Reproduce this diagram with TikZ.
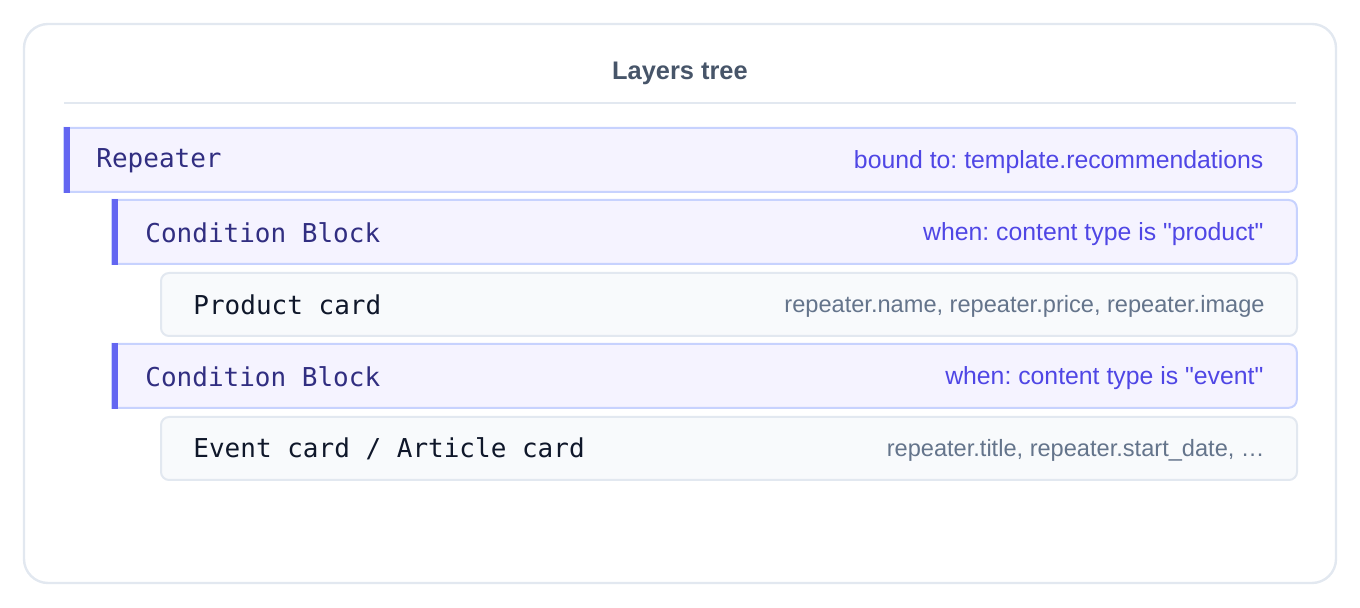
\documentclass[tikz,border=0pt]{standalone}
\usepackage{fontspec}
\setmainfont{Liberation Sans}[Ligatures=TeXOff]
\setmonofont{DejaVu Sans Mono}
\usepackage{tikz}
\usetikzlibrary{positioning}
\frenchspacing
\definecolor{cardline}{HTML}{E2E8F0}
\definecolor{titlegray}{HTML}{475569}
\definecolor{condfill}{HTML}{F5F3FF}
\definecolor{condline}{HTML}{C7D2FE}
\definecolor{condbar}{HTML}{6366F1}
\definecolor{condtext}{HTML}{312E81}
\definecolor{condlabel}{HTML}{4F46E5}
\definecolor{itemfill}{HTML}{F8FAFC}
\definecolor{itemtext}{HTML}{0F172A}
\definecolor{itemlabel}{HTML}{64748B}
\tikzset{
rowBox/.style={anchor=north west, inner sep=0pt, minimum height=31.5pt, minimum width=#1},
itemBox/.style={rowBox=#1, draw=cardline, fill=itemfill, line width=1pt, rounded corners=4pt},
condName/.style={anchor=west, inner sep=0pt, yshift=-0.2pt, text=condtext, font=\ttfamily\fontsize{13}{15}\selectfont},
itemName/.style={condName, text=itemtext},
condLabel/.style={anchor=east, inner sep=0pt, yshift=-1pt, text=condlabel, font=\fontsize{12.4}{14}\selectfont},
itemLabel/.style={condLabel, text=itemlabel, font=\fontsize{11.8}{14}\selectfont}
}
% condition rows: square left edge with a bar, rounded right edge
\newcommand{\condShape}[1]{%
  \draw[draw=condline, fill=condfill, line width=1pt] (#1.south west) -- (#1.north west)
    -- ([xshift=-4pt]#1.north east) arc[start angle=90, end angle=0, radius=4pt]
    -- ([yshift=4pt]#1.south east) arc[start angle=0, end angle=-90, radius=4pt] -- cycle;
  \fill[condbar] ([yshift=0.5pt]#1.north west) rectangle ([xshift=2.75pt,yshift=-0.5pt]#1.south west);}

\begin{document}
\begin{tikzpicture}[x=0.5pt, y=-0.5pt]
    \useasboundingbox (0,0) rectangle (1360,608);
    \draw[cardline, line width=1.2pt, rounded corners=12pt] (24,24) rectangle (1336,583);
    \node[text=titlegray, font=\bfseries\fontsize{12.7}{15}\selectfont] (title) at (680,73.5) {Layers tree};
    \coordinate (sepL) at (64,103);
    \coordinate (sepR) at (1296,103);
    \draw[cardline, line width=1pt] (sepL) -- (sepR);

    \node[rowBox=616pt] (rep) at (64,128) {};
    \condShape{rep}
    \node[condName] (repName) at ([xshift=16pt]rep.west) {Repeater};
    \node[condLabel] (repLabel) at ([xshift=-16.5pt]rep.east) {bound to: template.recommendations};

    \node[rowBox=592pt] (condA) at (112,200) {};
    \condShape{condA}
    \node[condName] (condAName) at ([xshift=16.5pt]condA.west) {Condition Block};
    \node[condLabel] (condALabel) at ([xshift=-16.5pt]condA.east) {when: content type is "product"};

    \node[itemBox=568pt] (product) at (160,272) {};
    \node[itemName] (productName) at ([xshift=16.5pt]product.west) {Product card};
    \node[itemLabel] (productLabel) at ([xshift=-16.5pt]product.east) {repeater.name, repeater.price, repeater.image};

    \node[rowBox=592pt] (condB) at (112,344) {};
    \condShape{condB}
    \node[condName] (condBName) at ([xshift=16.5pt]condB.west) {Condition Block};
    \node[condLabel] (condBLabel) at ([xshift=-16.5pt]condB.east) {when: content type is "event"};

    \node[itemBox=568pt] (event) at (160,416) {};
    \node[itemName] (eventName) at ([xshift=16.5pt]event.west) {Event card / Article card};
    \node[itemLabel] (eventLabel) at ([xshift=-16.5pt]event.east) {repeater.title, repeater.start\_date, …};
\end{tikzpicture}
\end{document}
